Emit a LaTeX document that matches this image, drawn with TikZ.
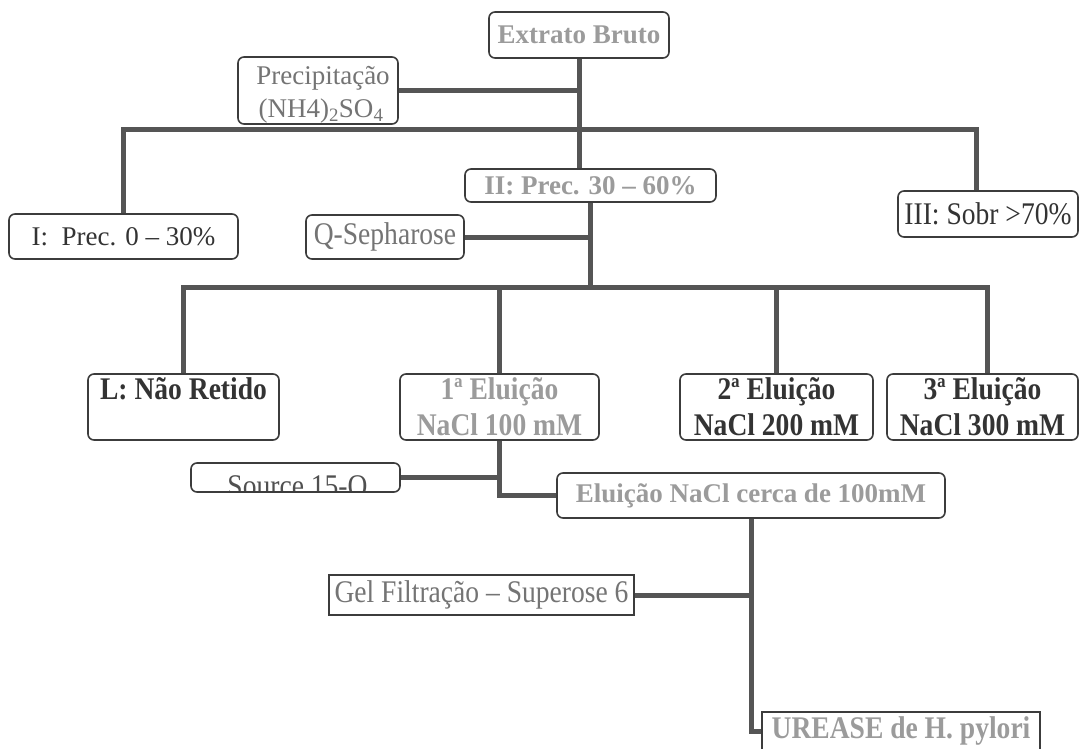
\documentclass[tikz,border=0pt]{standalone}
\usepackage{fontspec}
\setmainfont{Liberation Serif}
\newfontfamily\tallfont[FakeStretch=0.875]{Liberation Serif}
\usetikzlibrary{backgrounds}
\definecolor{boxc}{HTML}{3C3C3C}
\definecolor{linec}{HTML}{555555}
\definecolor{darktext}{HTML}{333333}
\definecolor{graytext}{HTML}{9B9B9B}
\definecolor{midtext}{HTML}{747474}
\definecolor{srctext}{HTML}{505050}
\newcommand\fsz{\fontsize{27}{33}\selectfont}
\newcommand\fst{\tallfont\fontsize{31.5}{36}\selectfont}
\tikzset{
  box/.style={draw=boxc, line width=1.6pt, rounded corners=6pt, fill=white, inner sep=0pt, align=center},
  sqbox/.style={box, sharp corners},
  conn/.style={draw=linec, line width=5pt, line join=miter},
  dk/.style={text=darktext, font=\fsz},
  dkt/.style={text=darktext, font=\fst},
  dkbt/.style={text=darktext, font=\fst\bfseries},
  gb/.style={text=graytext, font=\fsz\bfseries},
  gbt/.style={text=graytext, font=\fst\bfseries},
  mtt/.style={text=midtext, font=\fst},
  inner/.style={draw=none, fill=none, inner sep=0pt, anchor=base}
}
\begin{document}
\begin{tikzpicture}[x=1pt,y=-1pt]
\useasboundingbox (0,0) rectangle (1079,749);

% nodes
\node[box, gb, minimum width=180pt, minimum height=46pt] (ext) at (579,35) {Extrato Bruto};
\node[box, minimum width=160pt, minimum height=67pt, path picture={
  \node[inner, text=midtext, font=\fsz] at ([xshift=5pt,yshift=-28pt]path picture bounding box.north) {Precipitação};
  \node[inner, text=midtext, font=\fsz] at ([xshift=3pt,yshift=-61pt]path picture bounding box.north) {(NH4)\textsubscript{2}SO\textsubscript{4}};
}] (prec) at (318,90.5) {};
\node[box, dk, minimum width=229pt, minimum height=45pt] (i) at (123.5,236.5) {I:\ \ Prec. 0 – 30\%};
\node[box, gb, minimum width=251pt, minimum height=33pt] (ii) at (590.5,185.5) {II: Prec. 30 – 60\%};
\node[box, dkt, minimum width=180pt, minimum height=46pt] (iii) at (988,214) {III: Sobr >70\%};
\node[box, mtt, minimum width=158pt, minimum height=44pt] (q) at (385,237) {Q-Sepharose};

\node[box, dkbt, minimum width=191pt, minimum height=66pt] (l) at (183.5,407) {L: Não Retido\\\mbox{}};
\node[box, gbt, minimum width=199pt, minimum height=66pt] (e1) at (499.5,407) {1ª Eluição\\NaCl 100 mM};
\node[box, dkbt, minimum width=193pt, minimum height=66pt] (e2) at (776.5,407) {2ª Eluição\\NaCl 200 mM};
\node[box, dkbt, minimum width=191pt, minimum height=66pt] (e3) at (982.5,407) {3ª Eluição\\NaCl 300 mM};

\node[box, minimum width=209pt, minimum height=29pt, path picture={
  \node[inner, text=srctext, font=\fst] at ([xshift=2pt,yshift=-33pt]path picture bounding box.north) {Source 15-O};
}] (src) at (295.5,477.5) {};
\node[box, gb, minimum width=388pt, minimum height=45pt] (elu) at (751,495.5) {Eluição NaCl cerca de 100mM};
\node[sqbox, mtt, minimum width=305pt, minimum height=40pt] (gel) at (481.5,595) {Gel Filtração – Superose 6};
\node[sqbox, gbt, minimum width=278pt, minimum height=38pt] (ur) at (901,731) {UREASE de H. pylori};

% connectors
\begin{scope}[on background layer]
\fill[white] (0,0) rectangle (1079,749);
\coordinate (bus1) at (579,130);
\coordinate (bus2) at (590,287);
\draw[conn] (ext.south) -- (ext.south |- ii.north);
\draw[conn] (prec.east) -- (prec.east -| ext.south);
\draw[conn] (i.north) -- (i.north |- bus1) -- ([xshift=-12pt]iii.north |- bus1) -- ([xshift=-12pt]iii.north);
\draw[conn] (ii.south) -- (ii.south |- bus2);
\draw[conn] (q.east) -- (q.east -| ii.south);
\draw[conn] (l.north) -- (l.north |- bus2) -- ([xshift=4.5pt]e3.north |- bus2) -- ([xshift=4.5pt]e3.north);
\draw[conn] (e1.north) -- (e1.north |- bus2);
\draw[conn] (e2.north) -- (e2.north |- bus2);
\draw[conn] (e1.south) |- (elu.west);
\draw[conn] (src.east) -- (src.east -| e1.south);
\draw[conn] (elu.south) |- (ur.west);
\draw[conn] (gel.east) -- (gel.east -| elu.south);
\end{scope}
\end{tikzpicture}
\end{document}
